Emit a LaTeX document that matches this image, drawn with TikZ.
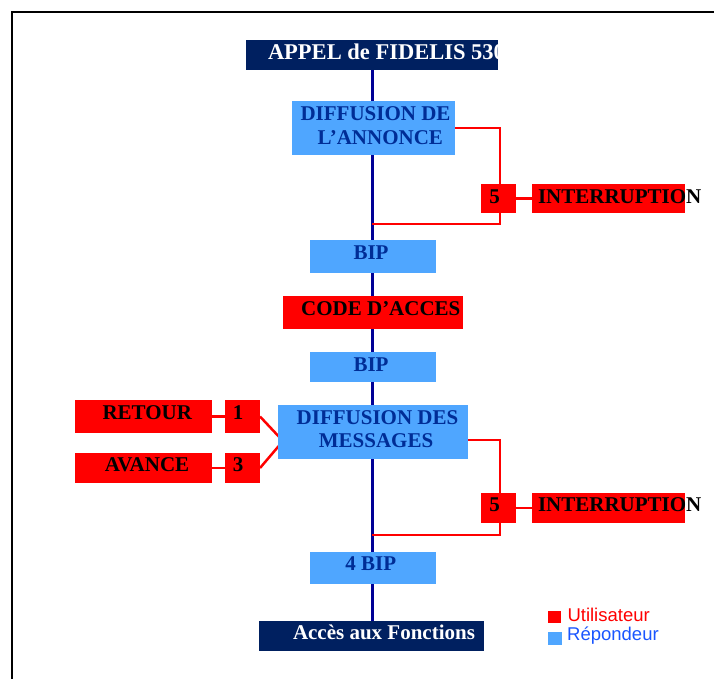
\documentclass[tikz,border=0pt]{standalone}
\usepackage{fontspec}
\setmainfont{Liberation Serif}
\newfontfamily\legendfont{Liberation Sans}
\usetikzlibrary{backgrounds}
\definecolor{navybox}{RGB}{0,32,96}
\definecolor{skybox}{RGB}{79,166,255}
\definecolor{skytext}{RGB}{0,45,150}
\definecolor{mainline}{RGB}{0,0,150}
\definecolor{legblue}{RGB}{25,85,255}
\begin{document}
\begin{tikzpicture}[x=1pt,y=-1pt,
  box/.style={rectangle,inner sep=0pt,outer sep=0pt,anchor=north west},
  navyb/.style={box,fill=navybox},
  skyb/.style={box,fill=skybox},
  redb/.style={box,fill=red},
  txt/.style={inner sep=0pt,outer sep=0pt,anchor=base,font=\bfseries\fontsize{21}{21}\selectfont},
  skyt/.style={txt,text=skytext},
  redt/.style={txt,text=black},
  navyt/.style={txt,text=white},
  legt/.style={inner sep=0pt,anchor=base west,font=\legendfont\fontsize{18.5}{18.5}\selectfont},
  mainln/.style={draw=mainline,line width=3pt},
  redln/.style={draw=red,line width=2.5pt}
]
\useasboundingbox (0,0) rectangle (714,678);

% boxes
\node[navyb,minimum width=252pt,minimum height=30pt] (appel) at (246,40) {};
\node[skyb,minimum width=163pt,minimum height=54pt] (diff1) at (292,101) {};
\node[skyb,minimum width=126pt,minimum height=33pt] (bip1) at (310,240) {};
\node[redb,minimum width=180pt,minimum height=33pt] (code) at (283,296) {};
\node[skyb,minimum width=126pt,minimum height=30pt] (bip2) at (310,352) {};
\node[skyb,minimum width=190pt,minimum height=54pt] (diff2) at (278,405) {};
\node[skyb,minimum width=126pt,minimum height=32pt] (bip4) at (310,552) {};
\node[navyb,minimum width=225pt,minimum height=30pt] (acces) at (259,621) {};
\node[redb,minimum width=137pt,minimum height=33pt] (retour) at (75,400) {};
\node[redb,minimum width=35pt,minimum height=33pt] (one) at (225,400) {};
\node[redb,minimum width=137pt,minimum height=30pt] (avance) at (75,453) {};
\node[redb,minimum width=35pt,minimum height=30pt] (three) at (225,453) {};
\node[redb,minimum width=35pt,minimum height=29pt] (five1) at (481,184) {};
\node[redb,minimum width=153pt,minimum height=29pt] (int1) at (532,184) {};
\node[redb,minimum width=35pt,minimum height=30pt] (five2) at (481,493) {};
\node[redb,minimum width=153pt,minimum height=30pt] (int2) at (532,493) {};
\node[redb,minimum width=13pt,minimum height=12pt] (legred) at (548,611) {};
\node[skyb,minimum width=14pt,minimum height=13pt] (legsky) at (548,632) {};

% texts
\begin{scope}
  \clip (246,40) rectangle (498,70);
  \node[navyt,anchor=base west,font=\bfseries\fontsize{22.5}{22.5}\selectfont] (appeltxt) at (268,59.5) {APPEL de FIDELIS 5300};
\end{scope}
\node[skyt] (diff1a) at (375.5,120.5) {DIFFUSION DE};
\node[skyt] (diff1b) at (380.3,144) {L’ANNONCE};
\node[skyt] (bip1t) at (371,259.3) {BIP};
\node[redt] (codet) at (380.8,315) {CODE D’ACCES};
\node[skyt] (bip2t) at (371,371) {BIP};
\node[skyt] (diff2a) at (377.5,424.3) {DIFFUSION DES};
\node[skyt] (diff2b) at (376,447.3) {MESSAGES};
\node[redt] (retourt) at (147.3,419.3) {RETOUR};
\node[redt] (onet) at (238,419.3) {1};
\node[redt] (avancet) at (147,471.7) {AVANCE};
\node[redt] (threet) at (238,471.7) {3};
\node[redt] (five1t) at (494.5,203.3) {5};
\node[redt,anchor=base west] (int1t) at (538,203.3) {INTERRUPTION};
\node[redt] (five2t) at (494.5,511.7) {5};
\node[redt,anchor=base west] (int2t) at (538,511.7) {INTERRUPTION};
\node[skyt] (bip4t) at (370.7,570.7) {4 BIP};
\node[navyt] (accest) at (384,639.3) {Accès aux Fonctions};
\node[legt,text=red] (legredt) at (567.3,621.7) {Utilisateur};
\node[legt,text=legblue] (legskyt) at (567,640) {Répondeur};

% connectors
\coordinate (r1) at (500,224);
\coordinate (j1) at (372,224);
\coordinate (r2) at (500,535);
\coordinate (j2) at (372,535);
\coordinate (m) at (283,441);
\begin{scope}[on background layer]
  \draw[mainln] (appel.south) -- (appel.south |- acces.north);
  \draw[redln] (diff1.east) -| (r1) -- (j1);
  \draw[redln] (five1.east) -- (int1.west);
  \draw[redln] ([shift={(0,8)}]diff2.east) -| (r2) -- (j2);
  \draw[redln] (five2.east) -- (int2.west);
  \draw[redln] (retour.east) -- (one.west);
  \draw[redln] (avance.east) -- (three.west);
  \draw[redln] (one.east) -- (m) -- (three.east);
\end{scope}

% frame
\draw[line width=2.5pt,line join=miter] (12,680) -- (12,12) -- (716,12);
\end{tikzpicture}
\end{document}
